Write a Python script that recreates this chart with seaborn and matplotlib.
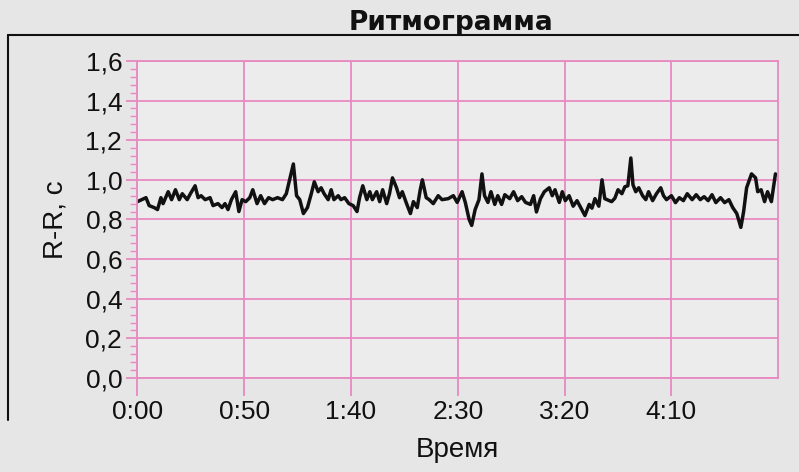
import matplotlib
matplotlib.use('Agg')
import matplotlib.pyplot as plt
import seaborn as sns
import pandas as pd
from matplotlib.ticker import MultipleLocator
from matplotlib.lines import Line2D

# ---- data (time in seconds, R-R interval in seconds) ----
t_seg1 = [0, 2, 4, 5.5, 7.8, 9.4, 11, 12, 14.4, 16, 17.8, 19.6, 21, 23.3, 24.8, 27,
          28.4, 29.8, 31.7, 34, 35.4, 37.7, 39.6, 41, 42.4, 44, 46, 47.5, 49, 50.7,
          52.6, 54, 56, 57.7, 59.5, 61.4, 63.3, 65.6, 67.9, 69.7]
rr_seg1 = [0.89, 0.90, 0.91, 0.87, 0.86, 0.85, 0.91, 0.88, 0.94, 0.90, 0.95, 0.90, 0.93,
           0.90, 0.93, 0.97, 0.91, 0.92, 0.90, 0.91, 0.87, 0.88, 0.86, 0.88, 0.85, 0.90,
           0.94, 0.84, 0.90, 0.89, 0.91, 0.95, 0.88, 0.92, 0.88, 0.91, 0.90, 0.91, 0.90, 0.93]

t_seg2 = [73, 74.5, 76, 77.7, 79.6, 81.4, 82.8, 84.6, 86, 87.4, 89.3, 90.7, 92, 94, 95.3,
          97, 99, 101, 102.8, 104, 105.5, 107.4, 108.8, 110, 112, 113.4, 114.8, 116.7,
          118, 119.4, 121.3, 122.7, 124, 126, 127.8, 129.2, 131, 132.4, 133.4, 135.2,
          136.6, 138.5, 140.8, 142.6]
rr_seg2 = [1.08, 0.92, 0.90, 0.83, 0.86, 0.93, 0.99, 0.94, 0.96, 0.93, 0.90, 0.95, 0.90,
           0.92, 0.90, 0.91, 0.88, 0.87, 0.84, 0.91, 0.97, 0.90, 0.94, 0.90, 0.94, 0.89,
           0.95, 0.88, 0.93, 1.01, 0.96, 0.91, 0.94, 0.88, 0.83, 0.89, 0.86, 0.95, 1.00,
           0.91, 0.90, 0.88, 0.92, 0.90]

t_seg3 = [145.5, 147.9, 149.7, 152, 153.5, 155.3, 156.5, 158.1, 159.9, 161.3, 162.5,
          164.1, 165.5, 167.3, 168.7, 170.5, 172, 174.3, 176.1, 178, 179.9, 181.7, 184,
          185.5, 186.8, 188.7, 190.5, 192.8, 194.2, 195.5, 197.5, 198.9, 200.3, 202.1,
          204, 205.8, 207.7, 209.5, 211.5, 212.8, 214.2, 216, 217.5, 218.8]
rr_seg3 = [0.905, 0.92, 0.886, 0.94, 0.886, 0.80, 0.77, 0.85, 0.90, 1.03, 0.92, 0.886,
           0.94, 0.876, 0.92, 0.876, 0.925, 0.905, 0.94, 0.895, 0.915, 0.886, 0.876, 0.92,
           0.838, 0.905, 0.94, 0.96, 0.92, 0.95, 0.886, 0.94, 0.895, 0.92, 0.867, 0.895,
           0.857, 0.82, 0.876, 0.857, 0.905, 0.867, 1.00, 0.905]

t_seg4 = [222, 223.5, 225, 226.8, 228.2, 229.6, 231, 232, 233.3, 234.7, 236.5, 238,
          239.3, 241.2, 243, 245, 246.3, 247.7, 250, 251.9, 253.7, 255.6, 257.4, 259.7,
          261.6, 263.5, 265.3, 267.2, 269, 270.8, 273, 274.9, 276.9, 278.7, 280.6, 282.5,
          283.8, 285.2, 287.5, 289.4, 290.4, 292, 293.6, 295, 296.8, 298.7]
rr_seg4 = [0.89, 0.907, 0.95, 0.93, 0.965, 0.97, 1.11, 0.975, 0.94, 0.96, 0.92, 0.90,
           0.94, 0.895, 0.93, 0.96, 0.92, 0.90, 0.92, 0.885, 0.91, 0.895, 0.93, 0.90,
           0.925, 0.90, 0.915, 0.895, 0.925, 0.885, 0.91, 0.885, 0.90, 0.86, 0.83, 0.76,
           0.84, 0.96, 1.03, 1.01, 0.94, 0.95, 0.89, 0.94, 0.89, 1.03]

x_ticks = [0, 50, 100, 150, 200, 250]
x_labels = ['0:00', '0:50', '1:40', '2:30', '3:20', '4:10']
y_ticks = [0.0, 0.2, 0.4, 0.6, 0.8, 1.0, 1.2, 1.4, 1.6]
y_labels = ['0,0', '0,2', '0,4', '0,6', '0,8', '1,0', '1,2', '1,4', '1,6']

title = 'Ритмограмма'
x_title = 'Время'
y_title = 'R-R, c'

# ---- plotting ----
sns.set_theme(style='white')
plt.rcParams['font.family'] = ['Liberation Sans', 'DejaVu Sans']

PINK = '#e88ac2'
fig = plt.figure(figsize=(7.99, 4.72), dpi=100, facecolor='#e6e6e6')
ax = fig.add_axes([0.172, 0.199, 0.802, 0.672])
ax.set_facecolor('#ececec')

df = pd.DataFrame({'t': t_seg1 + t_seg2 + t_seg3 + t_seg4,
                   'rr': rr_seg1 + rr_seg2 + rr_seg3 + rr_seg4})
sns.lineplot(data=df, x='t', y='rr', color='#111111', linewidth=2.5, ax=ax)

ax.set_xlim(0, 300)
ax.set_ylim(0, 1.6)
ax.set_xticks(x_ticks)
ax.set_xticklabels(x_labels)
ax.set_yticks(y_ticks)
ax.set_yticklabels(y_labels)
ax.yaxis.set_minor_locator(MultipleLocator(0.04))
ax.grid(True, which='major', color=PINK, linewidth=1.3)
for s in ax.spines.values():
    s.set_color(PINK)
    s.set_linewidth(1.3)

ax.tick_params(axis='both', which='major', labelsize=19, color=PINK,
               labelcolor='#111111', width=1.3)
ax.tick_params(axis='x', which='major', bottom=True, length=13, pad=3)
ax.tick_params(axis='y', which='major', left=True, length=8, pad=3)
ax.tick_params(axis='y', which='minor', left=True, length=5, width=1.0, color=PINK)

ax.set_xlabel(x_title, fontsize=20, color='#111111', labelpad=9)
ax.set_ylabel(y_title, fontsize=20, color='#111111', labelpad=12)

fig.text(0.565, 0.952, title, fontsize=19, fontweight='bold', ha='center', va='center',
         family=['DejaVu Sans'], color='#111111')

fig.add_artist(Line2D([0.01, 1.0], [0.926, 0.926], color='#111111', lw=1.5,
                      transform=fig.transFigure))
fig.add_artist(Line2D([0.01, 0.01], [0.926, 0.11], color='#111111', lw=1.5,
                      transform=fig.transFigure))

fig.savefig('out.png', dpi=100, facecolor=fig.get_facecolor())
